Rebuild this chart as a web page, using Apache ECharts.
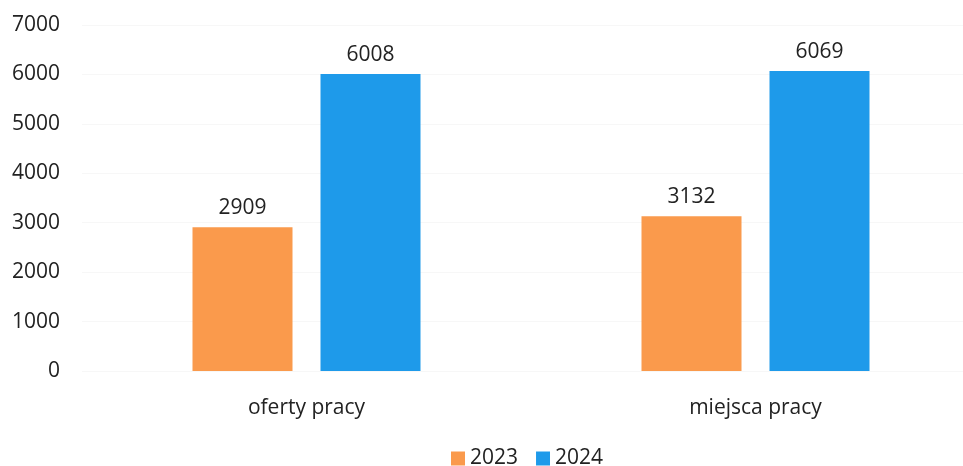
<!DOCTYPE html>
<html>
<head>
<meta charset="utf-8">
<script src="https://cdn.jsdelivr.net/npm/echarts@6/dist/echarts.min.js"></script>
<style>
  html, body { margin: 0; padding: 0; background: #ffffff; overflow: hidden; }
  #chart { width: 990px; height: 466px; }
</style>
</head>
<body>
<div id="chart"></div>
<script>
// Job offers vs. job places, 2023 compared with 2024
const categories = ['oferty pracy', 'miejsca pracy'];
const values2023 = [2909, 3132];
const values2024 = [6008, 6069];
const yTicks = { min: 0, max: 7000, interval: 1000 };

const textColor = '#222222';
const fontFamily = '"Open Sans", "Noto Sans", sans-serif';
const fontSize = 21;

const chart = echarts.init(document.getElementById('chart'));
chart.setOption({
  animation: false,
  textStyle: { fontFamily: fontFamily },
  grid: { left: 82, top: 25, right: 10, bottom: 95, containLabel: false },
  xAxis: {
    type: 'category',
    data: categories,
    axisLine: { show: false },
    axisTick: { show: false },
    axisLabel: { color: textColor, fontSize: fontSize, margin: 27, fontFamily: fontFamily }
  },
  yAxis: {
    type: 'value',
    min: yTicks.min,
    max: yTicks.max,
    interval: yTicks.interval,
    axisLine: { show: false },
    axisTick: { show: false },
    axisLabel: {
      color: textColor, fontSize: fontSize, margin: 22, fontFamily: fontFamily,
      formatter: (v) => String(v)
    },
    splitLine: { lineStyle: { color: '#f7f7f7', width: 1 } }
  },
  legend: {
    bottom: -8,
    left: 446,
    itemWidth: 14,
    itemHeight: 14,
    itemGap: 18,
    icon: 'rect',
    textStyle: { color: textColor, fontSize: fontSize, fontFamily: fontFamily }
  },
  series: [
    {
      name: '2023',
      type: 'bar',
      data: values2023,
      barWidth: 100,
      barGap: '28%',
      itemStyle: { color: '#FA9A4C' },
      label: { show: true, position: 'top', distance: 9, color: textColor, fontSize: fontSize, fontFamily: fontFamily }
    },
    {
      name: '2024',
      type: 'bar',
      data: values2024,
      barWidth: 100,
      itemStyle: { color: '#1E9AEA' },
      label: { show: true, position: 'top', distance: 9, color: textColor, fontSize: fontSize, fontFamily: fontFamily }
    }
  ]
});
</script>
</body>
</html>
